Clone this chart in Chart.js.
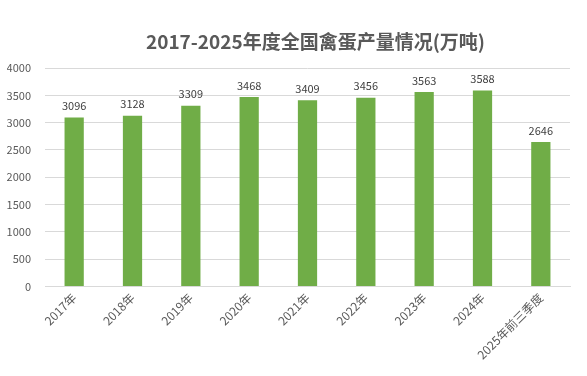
<!DOCTYPE html>
<html><head><meta charset="utf-8">
<script src="https://cdn.jsdelivr.net/npm/chart.js@4/dist/chart.umd.min.js"></script>
<style>html,body{margin:0;padding:0;background:#fff}#w{width:587px;height:376px}</style>
</head><body><div id="w"><canvas id="c"></canvas></div>
<script>
const categories = ["2017年","2018年","2019年","2020年","2021年","2022年","2023年","2024年","2025年前三季度"];
const values = [3096,3128,3309,3468,3409,3456,3563,3588,2646];
const yTicks = [0,500,1000,1500,2000,2500,3000,3500,4000];
const titleText = "2017-2025年度全国禽蛋产量情况(万吨)";

const font = '"Noto Sans CJK SC", "Open Sans", sans-serif';
const labelPlugin = {
  id: 'vals',
  afterDatasetsDraw(chart) {
    const ctx = chart.ctx;
    const meta = chart.getDatasetMeta(0);
    ctx.save();
    ctx.font = '11px ' + font;
    ctx.fillStyle = '#404040';
    ctx.textAlign = 'center';
    ctx.textBaseline = 'bottom';
    meta.data.forEach((bar, i) => {
      ctx.fillText(String(values[i]), bar.x, bar.y - 6);
    });
    ctx.restore();
  },
  afterDraw(chart) {
    const ctx = chart.ctx, a = chart.chartArea;
    ctx.save();
    ctx.font = 'bold 19px ' + font;
    ctx.fillStyle = '#595959';
    ctx.textAlign = 'center';
    ctx.textBaseline = 'middle';
    ctx.fillText(titleText, (a.left + a.right) / 2 + 8, 42);
    ctx.restore();
  }
};
new Chart(document.getElementById('c'), {
  type: 'bar',
  data: { labels: categories, datasets: [{ data: values, backgroundColor: '#70AD47', barPercentage: 0.33, categoryPercentage: 1 }] },
  options: {
    responsive: true, maintainAspectRatio: false, animation: false,
    layout: { autoPadding: false, padding: { left: 7, right: 17, top: 68, bottom: 10 } },
    plugins: { legend: { display: false }, tooltip: { enabled: false }, title: { display: false } },
    scales: {
      x: { grid: { display: false, drawTicks: false }, border: { color: '#D9D9D9' },
           ticks: { color: '#595959', font: { family: font, size: 12 }, maxRotation: 45, minRotation: 45, padding: 4 } },
      y: { min: 0, max: 4000, afterBuildTicks(ax) { ax.ticks = yTicks.map(v => ({ value: v })); },
           afterFit(ax) { ax.width = 38; },
           grid: { color: '#D9D9D9', drawTicks: false }, border: { display: false },
           ticks: { color: '#595959', font: { family: font, size: 11 }, padding: 14, callback: v => String(v) } }
    }
  },
  plugins: [labelPlugin]
});
</script></body></html>
